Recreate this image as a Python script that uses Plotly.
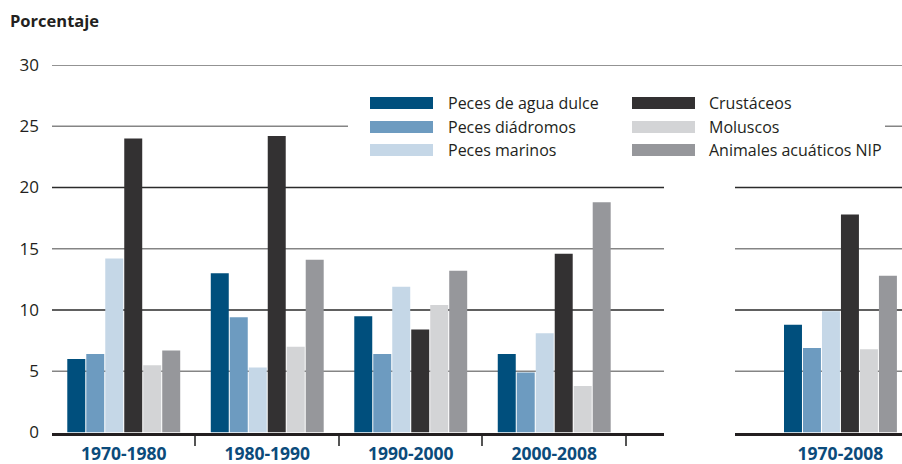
import plotly.graph_objects as go

# ---------------- data ----------------
categories = ["1970-1980", "1980-1990", "1990-2000", "2000-2008"]
total_category = ["1970-2008"]
series_names = ["Peces de agua dulce", "Peces diádromos", "Peces marinos",
                "Crustáceos", "Moluscos", "Animales acuáticos NIP"]
agua_dulce = [6.0, 13.0, 9.5, 6.4]
diadromos = [6.4, 9.4, 6.4, 4.9]
marinos = [14.2, 5.3, 11.9, 8.1]
crustaceos = [24.0, 24.2, 8.4, 14.6]
moluscos = [5.5, 7.0, 10.4, 3.8]
nip = [6.7, 14.1, 13.2, 18.8]
total_1970_2008 = [8.8, 6.9, 9.9, 17.8, 6.8, 12.8]
y_ticks = [0, 5, 10, 15, 20, 25, 30]

series_values = [agua_dulce, diadromos, marinos, crustaceos, moluscos, nip]
colors = ["#004f7d", "#6d9bc0", "#c5d7e7", "#333132", "#d3d4d6", "#96979b"]

W, H = 902, 464
TEXT = "#231f20"
FONT = "Open Sans, Noto Sans, sans-serif"
CAT_COLOR = "#0b4b7b"

fig = go.Figure()
for name, vals, col, tot in zip(series_names, series_values, colors, total_1970_2008):
    fig.add_trace(go.Bar(x=list(range(len(categories))), y=vals, name=name,
                         marker=dict(color=col, line=dict(width=0)),
                         xaxis="x", yaxis="y", showlegend=False))
    fig.add_trace(go.Bar(x=[0], y=[tot], name=name,
                         marker=dict(color=col, line=dict(width=0)),
                         xaxis="x2", yaxis="y2", showlegend=False))

def px_x(p):
    return p / W

def px_y(p):
    return 1 - p / H

y_dom = [px_y(432.5), px_y(65)]
x1_dom = [px_x(52), px_x(664)]
x2_dom = [px_x(735), 1.0]

axis_common = dict(showline=True, linecolor=TEXT, linewidth=3, showgrid=False,
                   zeroline=False, ticks="", fixedrange=True, automargin=False,
                   tickfont=dict(family=FONT, size=17.5, color=CAT_COLOR, weight="bold"),
                   ticklabelstandoff=3)

fig.update_layout(
    width=W, height=H, autosize=False,
    margin=dict(l=0, r=0, t=0, b=0, pad=0, autoexpand=False),
    paper_bgcolor="white", plot_bgcolor="white",
    barmode="group", bargap=0.206, bargroupgap=0.053,
    font=dict(family=FONT, color=TEXT),
    xaxis=dict(domain=x1_dom, range=[-0.5, 3.765], anchor="y",
               tickmode="array", tickvals=list(range(len(categories))), ticktext=categories,
               minor=dict(tickmode="array", tickvals=[0.5, 1.5, 2.5, 3.5], ticks="outside",
                          ticklen=10, tickwidth=1.5, tickcolor="#555555", showgrid=False),
               **axis_common),
    xaxis2=dict(domain=x2_dom, range=[-0.735, 0.429], anchor="y2",
                tickmode="array", tickvals=[0], ticktext=total_category,
                **axis_common),
    yaxis=dict(domain=y_dom, range=[0, 30], anchor="x", tickmode="array", tickvals=y_ticks,
               showgrid=False, zeroline=False, showline=False, ticks="",
               ticklabelstandoff=12, fixedrange=True, automargin=False,
               tickfont=dict(family=FONT, size=17, color=TEXT)),
    yaxis2=dict(domain=y_dom, range=[0, 30], anchor="x2", showticklabels=False,
                showgrid=False, zeroline=False, showline=False, fixedrange=True,
                automargin=False),
)

shapes = []
# gridlines (alternating gray / dark)
for v in y_ticks[1:-1]:
    col = "#2b2b2b" if v % 10 == 0 else "#858585"
    wid = 1.3 if v % 10 == 0 else 1.6
    for xr, yr in (("x domain", "y"), ("x2 domain", "y2")):
        shapes.append(dict(type="line", xref=xr, yref=yr, x0=0, x1=1, y0=v, y1=v,
                           line=dict(color=col, width=wid), layer="below"))
# top line spans across both panels
shapes.append(dict(type="line", xref="paper", yref="y", x0=x1_dom[0], x1=1,
                   y0=y_ticks[-1], y1=y_ticks[-1],
                   line=dict(color="#6f6f6f", width=1.6), layer="below"))
# legend background box
shapes.append(dict(type="rect", xref="paper", yref="paper",
                   x0=px_x(348), x1=px_x(885), y0=px_y(168), y1=px_y(84),
                   fillcolor="white", line=dict(width=0), layer="above"))

annotations = [dict(text="<b>Porcentaje</b>", xref="paper", yref="paper",
                    x=px_x(8), y=px_y(20), xanchor="left", yanchor="middle",
                    showarrow=False, font=dict(family=FONT, size=16.5, color=TEXT))]

# custom legend: two columns of three
col_swatch_x = [370, 632]
col_text_x = [446, 707]
row_y = [103, 127, 150]
for i, (name, col) in enumerate(zip(series_names, colors)):
    c, r = divmod(i, 3)
    sx, ty = col_swatch_x[c], row_y[r]
    shapes.append(dict(type="rect", xref="paper", yref="paper",
                       x0=px_x(sx), x1=px_x(sx + 63), y0=px_y(ty + 6), y1=px_y(ty - 6),
                       fillcolor=col, line=dict(width=0), layer="above"))
    annotations.append(dict(text=name, xref="paper", yref="paper",
                            x=px_x(col_text_x[c]), y=px_y(ty), xanchor="left",
                            yanchor="middle", showarrow=False,
                            font=dict(family=FONT, size=16, color=TEXT)))

fig.update_layout(shapes=shapes, annotations=annotations)
fig.write_html("out.html", config={"displayModeBar": False},
               post_script="document.body.style.margin='0';document.body.style.overflow='hidden';")
